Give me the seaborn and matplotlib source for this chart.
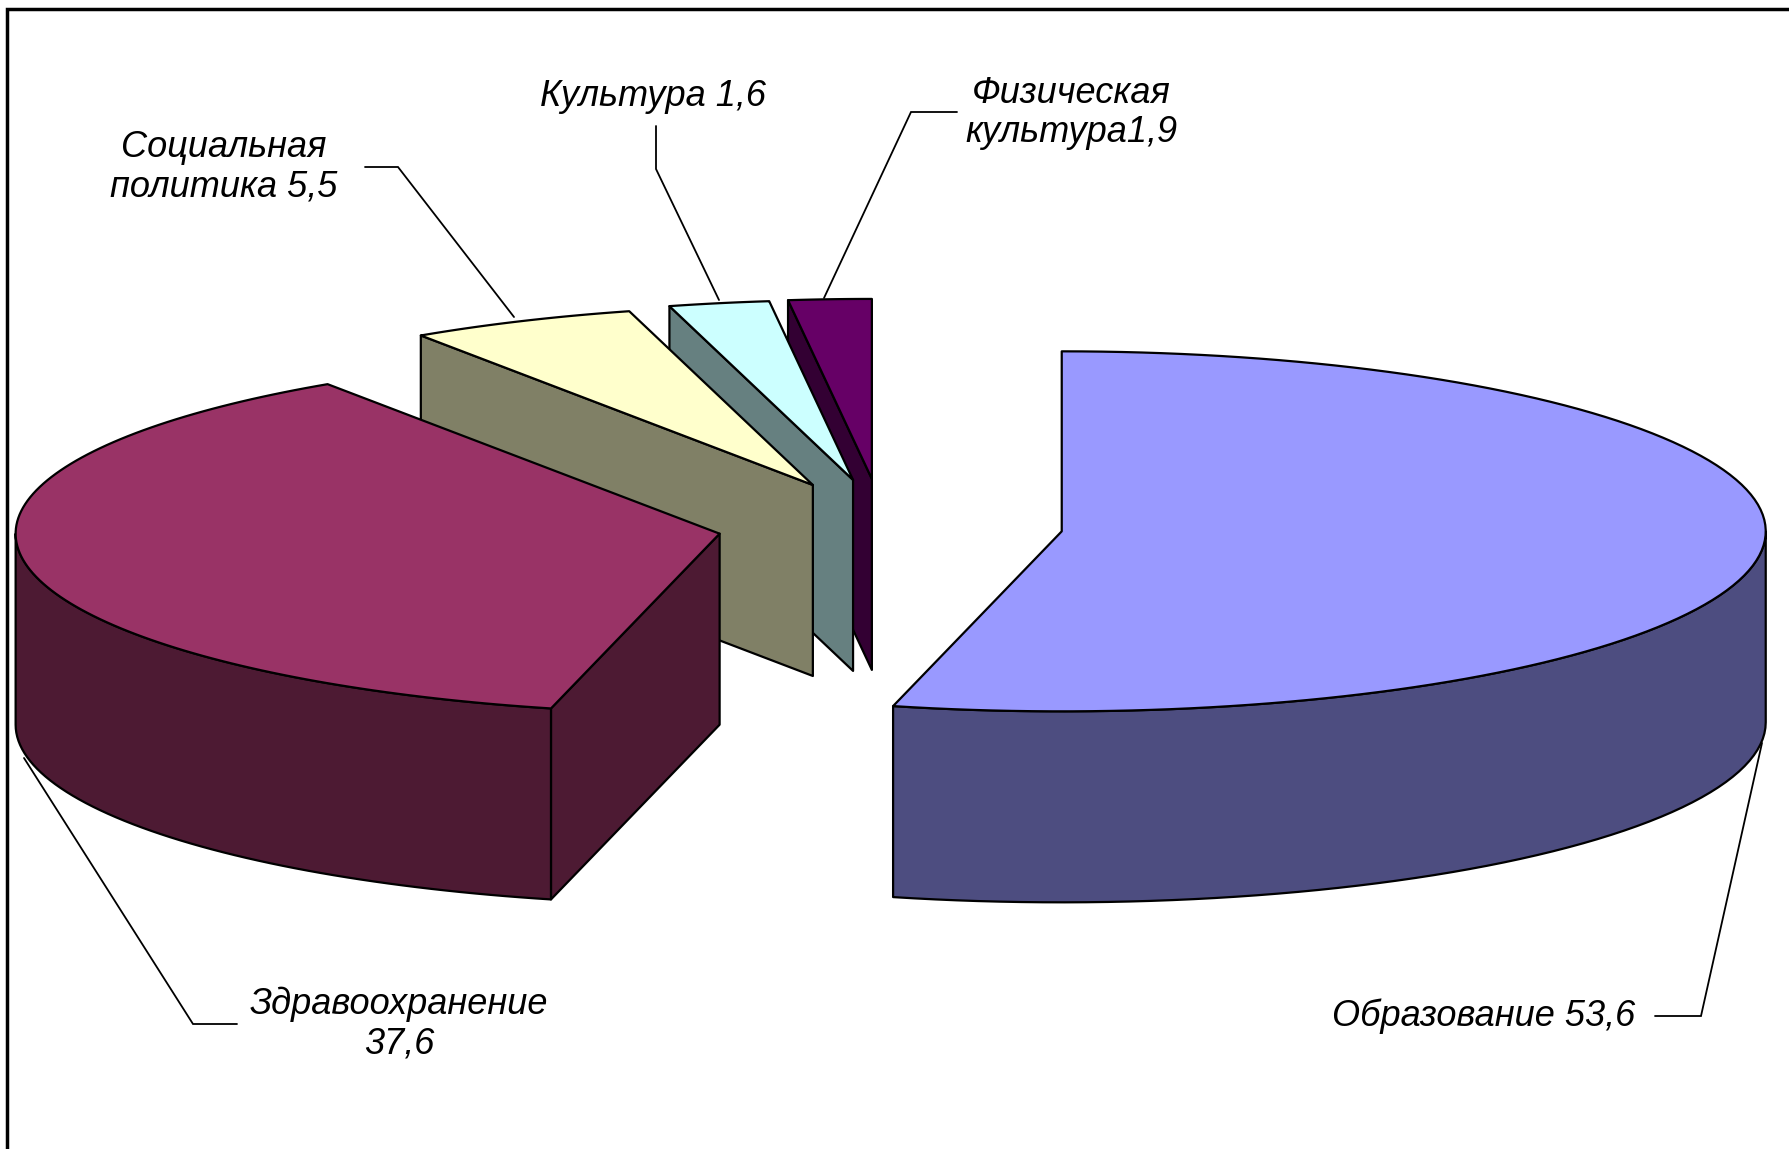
# =====================================================
# EXPLODED 3D PIE: BUDGET SHARES BY SECTOR
# =====================================================

import numpy as np
import matplotlib
matplotlib.use("Agg")
import matplotlib.pyplot as plt
import seaborn as sns

# -----------------------------
# DATA
# -----------------------------

sectors = ["Образование", "Здравоохранение", "Социальная политика", "Культура", "Физическая культура"]

# values printed in the labels
label_values = ["53,6", "37,6", "5,5", "1,6", "1,9"]

# share of the circle each slice really takes in the picture
drawn_shares = [53.85, 36.75, 5.2, 2.3, 1.9]

top_colors = ["#9999FF", "#993366", "#FFFFCC", "#CCFFFF", "#660066"]

# -----------------------------
# LAYOUT (pixels of the picture)
# -----------------------------

center_x = 890
center_y = 526
radius_x = 704
radius_y = 180
depth = 191
explode = [173, 173, 178, 184, 185]
explode_skew = [0, 0, -1.2, -0.6, -2.2]

draw_order = [4, 3, 2, 0, 1]

sns.set_style("white")
plt.rcParams['font.family'] = ['Liberation Sans', 'DejaVu Sans']

fig = plt.figure(figsize=(17.9, 11.49), dpi=100)
ax = fig.add_axes([0, 0, 1, 1])
ax.set_xlim(0, 1790)
ax.set_ylim(1149, 0)
ax.set_axis_off()

palette = sns.color_palette(top_colors)
side_colors = [tuple(c / 2 for c in color) for color in palette]

edges = np.concatenate([[0], np.cumsum(drawn_shares)]) * 360 / np.sum(drawn_shares)


def ellipse_point(cx, cy, angle):
    rad = np.radians(angle)
    return cx + radius_x * np.sin(rad), cy - radius_y * np.cos(rad)


def draw_slice(i):
    start, end = edges[i], edges[i + 1]
    middle = np.radians((start + end) / 2 + explode_skew[i])
    cx = center_x + explode[i] * np.sin(middle)
    cy = center_y - explode[i] * np.cos(middle) * radius_y / radius_x
    style = dict(edgecolor="black", linewidth=1.6, joinstyle="round")

    # cut faces that look towards the viewer
    for angle, visible in [(start, np.sin(np.radians(start)) < -1e-6),
                           (end, np.sin(np.radians(end)) > 1e-6)]:
        if visible:
            x, y = ellipse_point(cx, cy, angle)
            ax.fill([cx, x, x, cx], [cy, y, y + depth, cy + depth],
                    facecolor=side_colors[i], **style)

    # outer rim, only the front half of the circle
    rim_start, rim_end = max(start, 90), min(end, 270)
    if rim_start < rim_end:
        angles = np.linspace(rim_start, rim_end, 60)
        x, y = ellipse_point(cx, cy, angles)
        ax.fill(np.r_[x, x[::-1]], np.r_[y, y[::-1] + depth],
                facecolor=side_colors[i], **style)

    # top surface
    angles = np.linspace(start, end, 120)
    x, y = ellipse_point(cx, cy, angles)
    ax.fill(np.r_[cx, x], np.r_[cy, y], facecolor=palette[i], **style)


for i in draw_order:
    draw_slice(i)

# -----------------------------
# LEADER LINES AND LABELS
# -----------------------------

leaders = [
    ([1655, 1701, 1762], [1016, 1016, 743]),
    ([237, 193, 24], [1024, 1024, 758]),
    ([365, 398, 514], [167, 167, 317]),
    ([656, 656, 719], [126, 169, 300]),
    ([957, 911, 824], [112, 112, 298]),
]

for xs, ys in leaders:
    ax.plot(xs, ys, color="black", linewidth=1.3, solid_joinstyle="miter")

labels = [
    (1484, 1016, sectors[0] + " " + label_values[0]),
    (399, 1024, "Здравоохранение\n" + label_values[1]),
    (224, 167, "Социальная\nполитика " + label_values[2]),
    (653, 97, sectors[3] + " " + label_values[3]),
    (1071, 113, "Физическая\nкультура" + label_values[4]),
]

for x, y, text in labels:
    ax.text(x, y, text, ha="center", va="center", style="italic",
            fontsize=26, linespacing=1.15, color="black")

# frame: only the top and left sides are inside the picture
ax.plot([7, 7, 1790], [1149, 9, 9], color="black", linewidth=2.5, solid_joinstyle="miter")

fig.savefig("out.png", dpi=100, facecolor="white")
